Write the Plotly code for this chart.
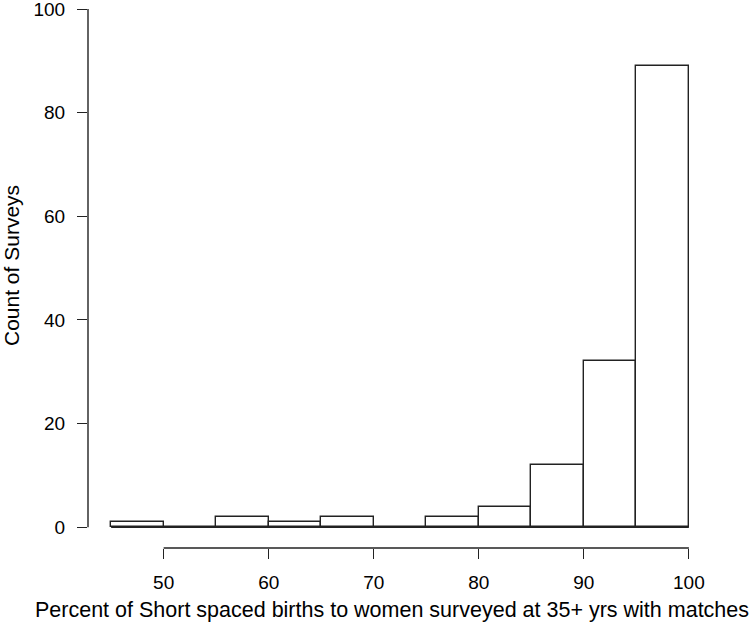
import plotly.graph_objects as go

# histogram bins (percent) and survey counts
bin_edges = [45, 50, 55, 60, 65, 70, 75, 80, 85, 90, 95, 100]
counts = [1, 0, 2, 1, 2, 0, 2, 4, 12, 32, 89]
x_ticks = [50, 60, 70, 80, 90, 100]
y_ticks = [0, 20, 40, 60, 80, 100]

centers = [(a + b) / 2 for a, b in zip(bin_edges[:-1], bin_edges[1:])]
widths = [b - a for a, b in zip(bin_edges[:-1], bin_edges[1:])]

INK = "#222222"
FONT = "Liberation Sans, Arial, Helvetica, sans-serif"

fig = go.Figure()
fig.add_trace(go.Bar(
    x=centers,
    y=counts,
    width=widths,
    marker=dict(color="white", line=dict(color=INK, width=1.4)),
    hoverinfo="x+y",
))
# zero-height bins still show as a baseline in the original
fig.add_trace(go.Scatter(
    x=[bin_edges[0], bin_edges[-1]],
    y=[0, 0],
    mode="lines",
    line=dict(color=INK, width=1.4),
    hoverinfo="skip",
))

# detached R-style axis lines
fig.add_shape(type="line", xref="x", yref="paper",
              x0=x_ticks[0], x1=x_ticks[-1], y0=0, y1=0,
              line=dict(color=INK, width=1.4))
fig.add_shape(type="line", xref="paper", yref="y",
              x0=0, x1=0, y0=y_ticks[0], y1=y_ticks[-1],
              line=dict(color=INK, width=1.4))

fig.update_layout(
    width=750,
    height=623,
    showlegend=False,
    plot_bgcolor="white",
    paper_bgcolor="white",
    font=dict(family=FONT, size=19, color="black"),
    margin=dict(l=88, r=38, t=0, b=75),
    bargap=0,
    xaxis=dict(
        range=[42.8, 102.2],
        tickvals=x_ticks,
        ticks="outside",
        ticklen=10,
        tickwidth=1.4,
        tickcolor=INK,
        showline=False,
        showgrid=False,
        zeroline=False,
        ticklabelstandoff=7,
        ticklabeloverflow="allow",
    ),
    yaxis=dict(
        range=[-4, 101.74],
        tickvals=y_ticks,
        ticks="outside",
        ticklen=10,
        tickwidth=1.4,
        tickcolor=INK,
        showline=False,
        showgrid=False,
        zeroline=False,
        ticklabelstandoff=8,
        ticklabeloverflow="allow",
    ),
    annotations=[
        dict(text="Percent of Short spaced births to women surveyed at 35+ yrs with matches",
             xref="paper", yref="paper", x=(391.5 - 88) / 624, y=-0.114,
             xanchor="center", yanchor="middle", showarrow=False,
             font=dict(size=21.5)),
        dict(text="Count of Surveys",
             xref="paper", yref="paper", x=(11 - 88) / 624, y=(548 - 266) / 548,
             xanchor="center", yanchor="middle", showarrow=False,
             textangle=-90, font=dict(size=21)),
    ],
)

fig.write_html("out.html", config={"displayModeBar": False},
               post_script="document.body.style.margin='0';")
